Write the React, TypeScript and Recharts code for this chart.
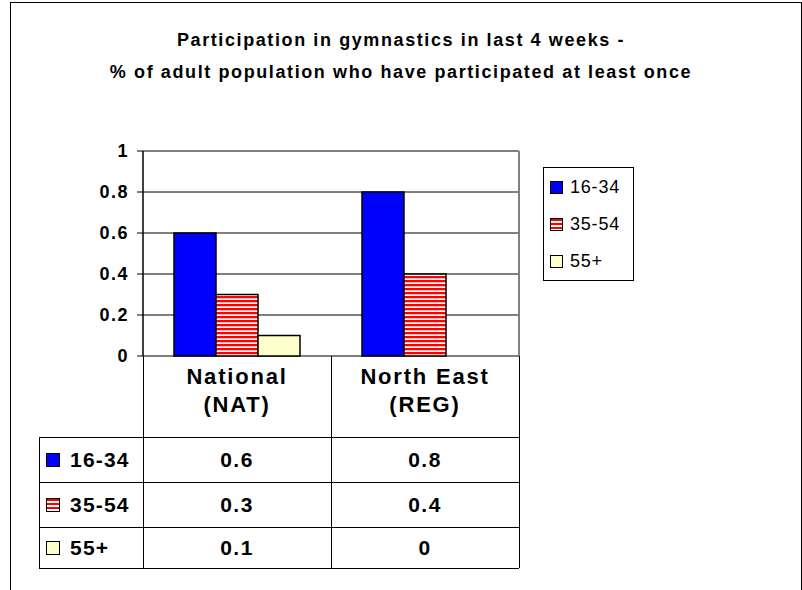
import { BarChart, Bar, XAxis, YAxis, CartesianGrid, ReferenceLine } from "recharts";

const categories = ["National (NAT)", "North East (REG)"];
const headerLines = [
  ["National", "(NAT)"],
  ["North East", "(REG)"],
];
const ageGroups = ["16-34", "35-54", "55+"];
const age16to34 = [0.6, 0.8];
const age35to54 = [0.3, 0.4];
const age55plus = [0.1, 0];
const yTicks = [0, 0.2, 0.4, 0.6, 0.8, 1];

const titleLines = [
  "Participation in gymnastics in last 4 weeks -",
  "% of adult population who have participated at least once",
];

const FONT = "'Liberation Sans', Arial, sans-serif";
const BLUE = "#0000FF";
const RED = "#FF0000";
const CREAM = "#FFFFCC";
const STRIPES = `repeating-linear-gradient(to bottom, ${RED} 0px, ${RED} 2px, #fff 2px, #fff 4px)`;

// plot box in page pixels
const PLOT_L = 143;
const PLOT_R = 519;
const PLOT_T = 151;
const PLOT_B = 356;

const data = categories.map((name, i) => ({
  name,
  a: age16to34[i],
  b: age35to54[i],
  c: age55plus[i],
}));

const rows = [age16to34, age35to54, age55plus];
const swatches = [BLUE, STRIPES, CREAM];

const ROW_Y = [437, 482, 527, 568];
const COL_X = [39, PLOT_L, (PLOT_L + PLOT_R) / 2, PLOT_R];

function Swatch({ bg, size }: { bg: string; size: number }) {
  return (
    <span
      style={{
        display: "inline-block",
        width: size,
        height: size,
        background: bg,
        border: "1px solid #000",
        boxSizing: "border-box",
      }}
    />
  );
}

export default function App() {
  const line = "#000";
  return (
    <div
      style={{
        position: "absolute",
        left: 0,
        top: 0,
        width: 802,
        height: 590,
        background: "#fff",
        fontFamily: FONT,
        overflow: "hidden",
      }}
    >
      {/* outer frame */}
      <div
        style={{
          position: "absolute",
          left: 10,
          top: 2,
          width: 790,
          height: 600,
          border: "1px solid #000",
        }}
      />

      {/* title */}
      <div
        style={{
          position: "absolute",
          left: 0,
          top: 24,
          width: 802,
          textAlign: "center",
          fontSize: 18,
          fontWeight: "bold",
          lineHeight: "32px",
          letterSpacing: 1.6,
        }}
      >
        {titleLines.map((t) => (
          <div key={t}>{t}</div>
        ))}
      </div>

      <div style={{ position: "absolute", left: 0, top: 0 }}>
        <BarChart
          width={802}
          height={590}
          data={data}
          margin={{ top: PLOT_T, right: 802 - PLOT_R, bottom: 590 - PLOT_B, left: PLOT_L - 40 }}
          barCategoryGap={31}
          barGap={0}
        >
          <defs>
            <pattern id="redStripes" width="8" height="4" patternUnits="userSpaceOnUse">
              <rect x="0" y="0" width="8" height="4" fill="#fff" />
              <rect x="0" y="0" width="8" height="2.3" fill={RED} />
            </pattern>
          </defs>
          <CartesianGrid vertical={false} stroke="#000" strokeWidth={1} />
          <XAxis dataKey="name" hide />
          <YAxis
            width={40}
            domain={[0, 1]}
            ticks={yTicks}
            interval={0}
            axisLine={{ stroke: "#000", strokeWidth: 1.5 }}
            tickLine={{ stroke: "#000" }}
            tickSize={6}
            tickMargin={8}
            tick={{ fill: "#000", fontSize: 18, fontWeight: "bold", fontFamily: FONT, letterSpacing: 1.5 }}
          />
          <ReferenceLine y={1} stroke="#808080" strokeWidth={2} />
          <Bar dataKey="a" fill={BLUE} stroke="#000" strokeWidth={1.5} isAnimationActive={false} />
          <Bar dataKey="b" fill="url(#redStripes)" stroke="#000" strokeWidth={1.5} isAnimationActive={false} />
          <Bar dataKey="c" fill={CREAM} stroke="#000" strokeWidth={1.5} isAnimationActive={false} />
        </BarChart>
      </div>

      {/* right plot border */}
      <div
        style={{
          position: "absolute",
          left: PLOT_R - 1,
          top: PLOT_T,
          width: 2,
          height: PLOT_B - PLOT_T,
          background: "#808080",
        }}
      />

      {/* legend */}
      <div
        style={{
          position: "absolute",
          left: 543,
          top: 167,
          width: 91,
          height: 114,
          border: "1px solid #000",
          boxSizing: "border-box",
          fontSize: 18,
        }}
      >
        {ageGroups.map((g, i) => (
          <div
            key={g}
            style={{
              position: "absolute",
              left: 6,
              top: 7 + i * 37,
              height: 24,
              display: "flex",
              alignItems: "center",
              gap: 7,
            }}
          >
            <Swatch bg={swatches[i]} size={13} />
            <span style={{ letterSpacing: 0.8 }}>{g}</span>
          </div>
        ))}
      </div>

      {/* data table */}
      {[COL_X[1], COL_X[2], COL_X[3]].map((x, i) => (
        <div
          key={"v" + i}
          style={{
            position: "absolute",
            left: x - 0.5,
            top: PLOT_B,
            width: 1,
            height: ROW_Y[3] - PLOT_B,
            background: line,
          }}
        />
      ))}
      <div
        style={{
          position: "absolute",
          left: COL_X[0],
          top: ROW_Y[0],
          width: 1,
          height: ROW_Y[3] - ROW_Y[0],
          background: line,
        }}
      />
      {ROW_Y.map((y, i) => (
        <div
          key={"h" + i}
          style={{
            position: "absolute",
            left: COL_X[0],
            top: y - 0.5,
            width: COL_X[3] - COL_X[0],
            height: 1,
            background: line,
          }}
        />
      ))}

      {/* header cells */}
      {headerLines.map((lines, j) => (
        <div
          key={"hd" + j}
          style={{
            position: "absolute",
            left: COL_X[j + 1],
            top: PLOT_B + 7,
            width: COL_X[j + 2] - COL_X[j + 1],
            textAlign: "center",
            fontSize: 22,
            fontWeight: "bold",
            lineHeight: "28px",
            letterSpacing: 1.8,
          }}
        >
          {lines.map((l) => (
            <div key={l}>{l}</div>
          ))}
        </div>
      ))}

      {/* rows */}
      {ageGroups.map((g, i) => (
        <div key={"r" + g}>
          <div
            style={{
              position: "absolute",
              left: 46,
              top: ROW_Y[i],
              height: ROW_Y[i + 1] - ROW_Y[i],
              display: "flex",
              alignItems: "center",
              gap: 10,
              fontSize: 21,
              fontWeight: "bold",
              letterSpacing: 1.2,
            }}
          >
            <Swatch bg={swatches[i]} size={14} />
            <span>{g}</span>
          </div>
          {rows[i].map((v, j) => (
            <div
              key={j}
              style={{
                position: "absolute",
                left: COL_X[j + 1],
                top: ROW_Y[i],
                width: COL_X[j + 2] - COL_X[j + 1],
                height: ROW_Y[i + 1] - ROW_Y[i],
                display: "flex",
                alignItems: "center",
                justifyContent: "center",
                fontSize: 21,
                fontWeight: "bold",
                letterSpacing: 1.5,
              }}
            >
              {v}
            </div>
          ))}
        </div>
      ))}
    </div>
  );
}
